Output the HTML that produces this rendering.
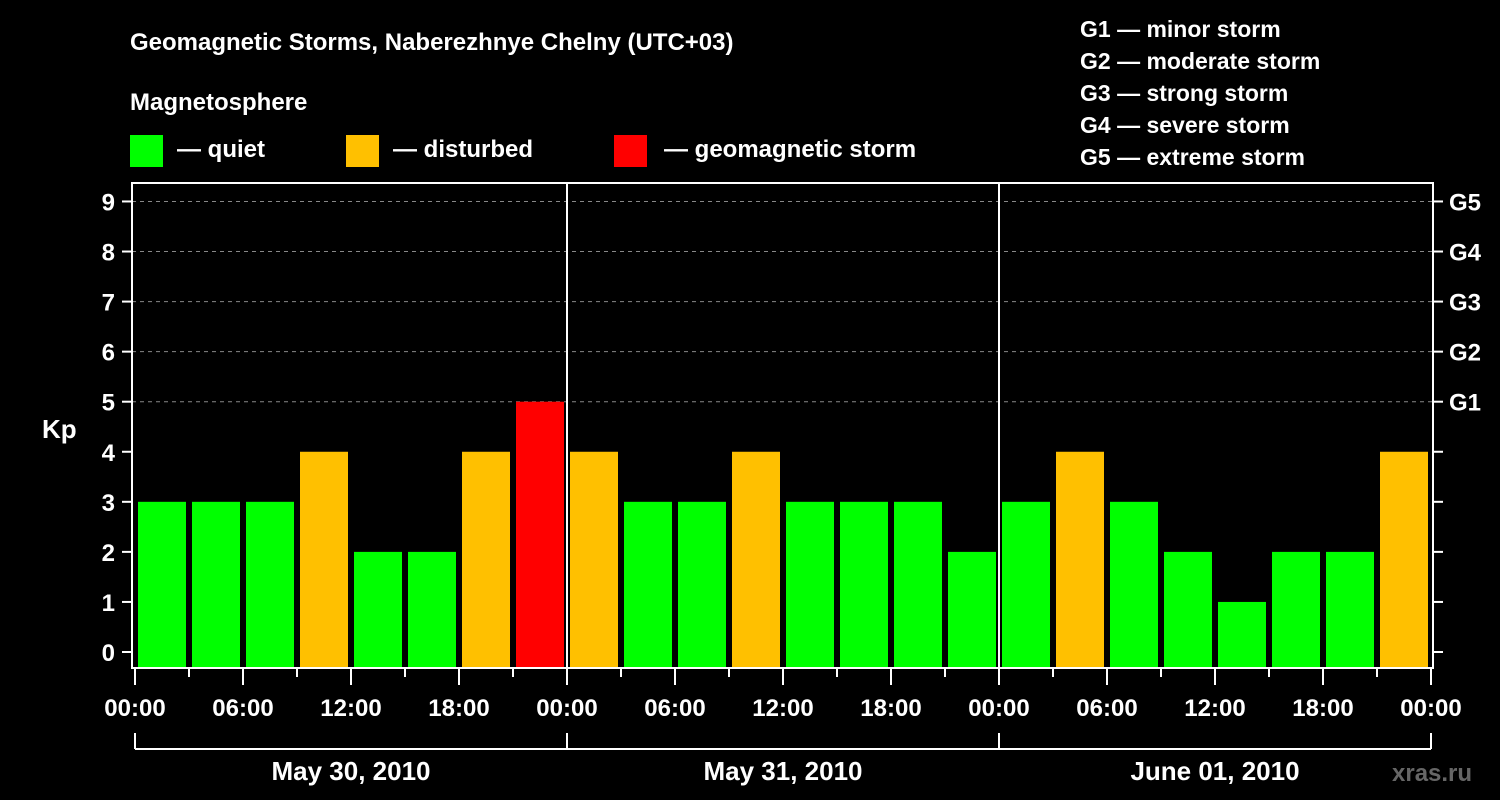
<!DOCTYPE html>
<html><head><meta charset="utf-8"><style>
html,body{margin:0;padding:0;background:#000;}
svg{display:block;font-family:"Liberation Sans",Arial,sans-serif;font-weight:bold;}
</style></head><body>
<svg id="chart" width="1500" height="800" viewBox="0 0 1500 800" xmlns="http://www.w3.org/2000/svg">
<rect width="1500" height="800" fill="#000"/>
<text x="130" y="50" fill="#fff" font-size="24">Geomagnetic Storms, Naberezhnye Chelny (UTC+03)</text>
<text x="130" y="110" fill="#fff" font-size="24">Magnetosphere</text>
<g><rect x="130" y="135" width="33" height="32" fill="#00ff00"/><text x="177" y="157" fill="#fff" font-size="24">— quiet</text></g>
<g><rect x="346" y="135" width="33" height="32" fill="#ffc000"/><text x="393" y="157" fill="#fff" font-size="24">— disturbed</text></g>
<g><rect x="614" y="135" width="33" height="32" fill="#ff0000"/><text x="664" y="157" fill="#fff" font-size="24">— geomagnetic storm</text></g>
<g fill="#fff" font-size="23">
<text x="1080" y="37">G1 — minor storm</text>
<text x="1080" y="69">G2 — moderate storm</text>
<text x="1080" y="101">G3 — strong storm</text>
<text x="1080" y="133">G4 — severe storm</text>
<text x="1080" y="165">G5 — extreme storm</text>
</g>
<text x="42" y="438" fill="#fff" font-size="26">Kp</text>
<text x="1392" y="781" fill="#666" font-size="24">xras.ru</text>
<g id="grid"></g>
<g id="bars"></g>
<g id="axes"></g>
</svg>
<script>
const kpValues = [3,3,3,4,2,2,4,5, 4,3,3,4,3,3,3,2, 3,4,3,2,1,2,2,4];
const dayLabels = ["May 30, 2010","May 31, 2010","June 01, 2010"];
const timeLabels = ["00:00","06:00","12:00","18:00"];
const gLabels = ["G1","G2","G3","G4","G5"];
const yTicks = [0,1,2,3,4,5,6,7,8,9];

const NS="http://www.w3.org/2000/svg";
const X0=135, slotW=54, L=132, R=1433, T=183, B=668;
const yScale = v => 652 - v*50.06;
const xScale = i => X0 + i*slotW;
function mk(tag, attrs, parent, txt){const e=document.createElementNS(NS,tag);for(const k in attrs)e.setAttribute(k,attrs[k]);if(txt!==undefined)e.textContent=txt;parent.appendChild(e);return e;}
const grid=document.getElementById('grid'), bars=document.getElementById('bars'), axes=document.getElementById('axes');

yTicks.forEach(v=>{
  const y=yScale(v);
  if(v>=5){const gl=mk('line',{x1:L,x2:R,y1:y,y2:y,stroke:'#888','stroke-dasharray':'4,4','stroke-width':1},grid);
  
  }
  mk('line',{x1:L-10,x2:L,y1:y,y2:y,stroke:'#fff','stroke-width':2},axes);
  mk('line',{x1:R,x2:R+10,y1:y,y2:y,stroke:'#fff','stroke-width':2},axes);
  const t=mk('text',{x:L-17,y:y+9,fill:'#fff','font-size':24,'text-anchor':'end'},axes,String(v));
  
  
  if(v>=5){const g=mk('text',{x:R+16,y:y+9,fill:'#fff','font-size':24},axes,gLabels[v-5]);
  
  }
});

kpValues.forEach((v,i)=>{
  const color = v>=5?'#ff0000':(v==4?'#ffc000':'#00ff00');
  const y=yScale(v);
  const b=mk('rect',{x:xScale(i)+3,y:y,width:48,height:B-y,fill:color},bars);
  
  
});

mk('rect',{x:L,y:T,width:R-L,height:B-T,fill:'none',stroke:'#fff','stroke-width':2},axes);
for(let d=1;d<dayLabels.length;d++){const x=xScale(d*8);
  const dl=mk('line',{x1:x,x2:x,y1:T,y2:B,stroke:'#fff','stroke-width':2},axes);
  
  }
for(let i=0;i<=kpValues.length;i++){
  const x=xScale(i), major=i%2==0;
  mk('line',{x1:x,x2:x,y1:B,y2:major?685:677,stroke:'#fff','stroke-width':2},axes);
  if(major){const lbl = timeLabels[(i/2)%4];
    const t=mk('text',{x:x,y:716,fill:'#fff','font-size':24,'text-anchor':'middle'},axes,lbl);
    
    }
}
dayLabels.forEach((d,k)=>{
  const x1=xScale(k*8), x2=xScale((k+1)*8);
  mk('line',{x1:x1,x2:x1,y1:733,y2:749,stroke:'#fff','stroke-width':2},axes);
  mk('line',{x1:x2,x2:x2,y1:733,y2:749,stroke:'#fff','stroke-width':2},axes);
  mk('line',{x1:x1,x2:x2,y1:749,y2:749,stroke:'#fff','stroke-width':2},axes);
  const t=mk('text',{x:(x1+x2)/2,y:780,fill:'#fff','font-size':26,'text-anchor':'middle'},axes,d);
  
  
});
</script>
</body></html>
